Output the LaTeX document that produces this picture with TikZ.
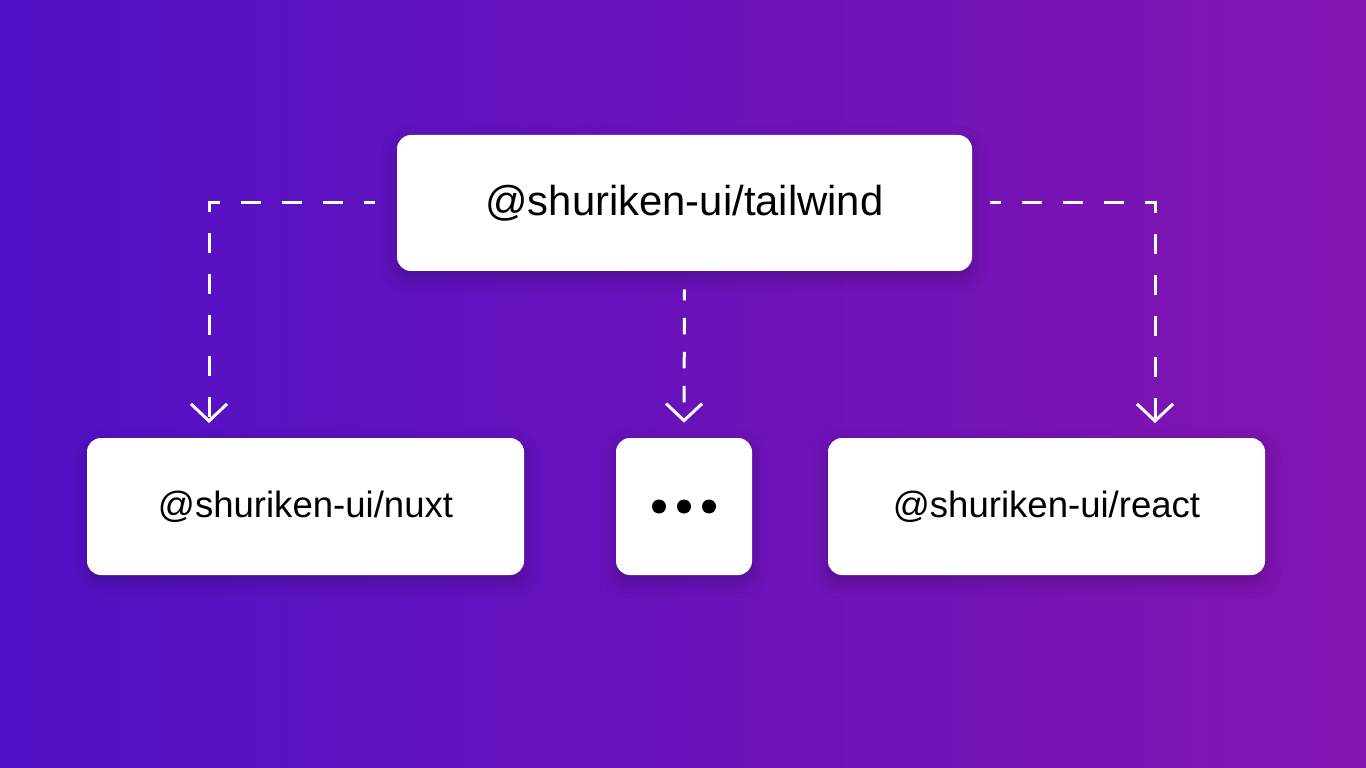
\documentclass[tikz,border=0pt]{standalone}
\usepackage{fontspec}
\setmainfont{Liberation Sans}
\usetikzlibrary{arrows.meta,shadows.blur}
\definecolor{bgleft}{RGB}{80,17,198}
\definecolor{bgright}{RGB}{131,20,176}
\tikzset{
	pkg/.style={fill=white, rounded corners=0.28cm, inner sep=0pt,
		blur shadow={shadow xshift=0pt, shadow yshift=-4pt, shadow blur radius=9pt, shadow opacity=22}},
	link/.style={white, line width=0.06cm, dash pattern=on 0.4cm off 0.42cm, dash phase=0.18cm,
		-{Straight Barb[length=0.34cm, width=0.72cm, line width=0.06cm]}},
	dot/.style={circle, fill=black, inner sep=0pt, minimum size=0.28cm}
}
\begin{document}
\begin{tikzpicture}
	\useasboundingbox (0,0) rectangle (27.32,-15.36);
	\shade[left color=bgleft, right color=bgright] (0,0) rectangle (27.32,-15.36);
	% boxes
	\node[pkg, minimum width=11.5cm, minimum height=2.72cm, font=\fontsize{23.8}{28}\selectfont] (tw) at (13.69,-4.06) {@shuriken-ui/tailwind};
	\node[pkg, minimum width=8.74cm, minimum height=2.74cm, font=\fontsize{20.8}{25}\selectfont] (nuxt) at (6.11,-10.13) {@shuriken-ui/nuxt};
	\node[pkg, minimum width=2.72cm, minimum height=2.74cm] (more) at (13.68,-10.13) {};
	\node[pkg, minimum width=8.74cm, minimum height=2.74cm, font=\fontsize{20.8}{25}\selectfont] (react) at (20.93,-10.13) {@shuriken-ui/react};
	\node[dot] (d2) at (more) {};
	\node[dot] (d1) at ([xshift=-0.5cm]more.center) {};
	\node[dot] (d3) at ([xshift=0.5cm]more.center) {};
	% connectors
	\coordinate (nuxtin) at (4.18,-8.46);
	\coordinate (reactin) at (23.1,-8.46);
	\draw[link] ([xshift=-0.44cm]tw.west) -| (nuxtin);
	\draw[link, dash pattern=on 0.33cm off 0.35cm, dash phase=0.11cm] ([yshift=-0.36cm]tw.south) -- ([yshift=0.3cm]more.north);
	\draw[link] ([xshift=0.36cm]tw.east) -| (reactin);
\end{tikzpicture}
\end{document}
